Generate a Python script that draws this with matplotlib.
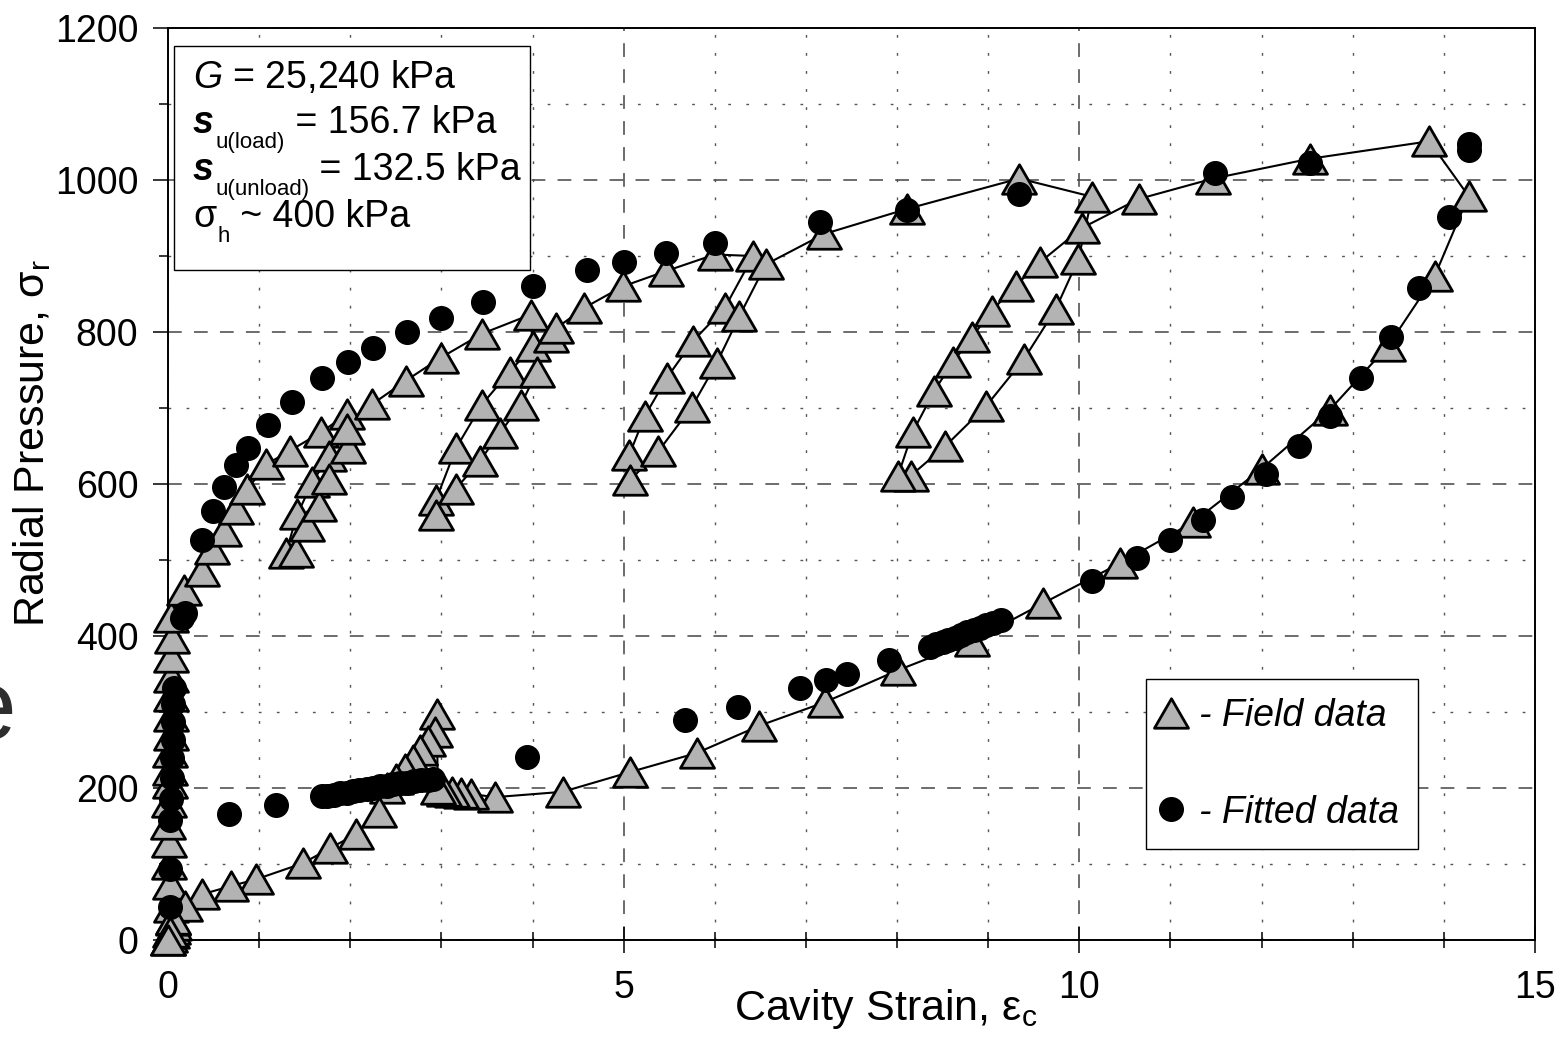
import matplotlib
matplotlib.use('Agg')
import matplotlib.pyplot as plt
from matplotlib.lines import Line2D
from matplotlib.markers import MarkerStyle
from matplotlib.patches import Rectangle
from matplotlib.path import Path
from matplotlib.ticker import MultipleLocator

plt.rcParams['font.family'] = ['Liberation Sans', 'DejaVu Sans']
plt.rcParams['mathtext.fontset'] = 'custom'
plt.rcParams['mathtext.rm'] = 'Liberation Sans'
plt.rcParams['mathtext.it'] = 'Liberation Sans:italic'
plt.rcParams['mathtext.bf'] = 'Liberation Sans:bold'

# field data, in test order (loading, 4 unload/reload loops, final unloading)
field_strain = [
    0.00, 0.02, 0.04, 0.06, 0.07, 0.05,
    0.03, 0.02, 0.01, 0.01, 0.00, 0.01, 0.02, 0.02, 0.02, 0.03, 0.03, 0.03,
    0.03, 0.03, 0.04, 0.03,
    0.17, 0.37, 0.48, 0.61, 0.75, 0.87, 1.08, 1.34, 1.68, 1.96,
    1.77, 1.58, 1.42, 1.29, 1.40, 1.53, 1.66, 1.77, 1.97, 1.96,
    2.24, 2.61, 2.99, 3.45, 3.98,
    4.00, 3.75, 3.44, 3.16, 2.94, 2.94, 3.16, 3.42, 3.64, 3.87, 4.05, 4.20, 4.26,
    4.57, 4.99, 5.46, 6.00, 6.42,
    6.11, 5.76, 5.47, 5.23, 5.06, 5.07, 5.38, 5.75, 6.02, 6.27, 6.56,
    7.20, 8.11, 9.34, 10.14,
    9.99, 9.74, 9.39, 8.98, 8.53, 8.15, 8.01, 8.17, 8.41, 8.61, 8.82, 9.04,
    9.30, 9.57, 10.03,
    10.65, 11.47, 12.53, 13.84, 14.27,
    13.90, 13.39, 12.75, 12.00, 11.25, 10.45, 9.60, 8.82, 8.01, 7.21, 6.49,
    5.80, 5.07, 4.33, 3.59, 3.33, 3.22, 3.12, 3.03, 2.96,
    2.95, 2.93, 2.85, 2.77, 2.69, 2.60, 2.50, 2.40,
    2.31, 2.06, 1.78, 1.48, 0.97, 0.69, 0.37, 0.19, 0.05, 0.02, 0.00,
]
field_pressure = [
    0, 4, 9, 14, 20, 26,
    44, 74, 100, 129, 153, 182, 206, 224, 248, 270, 295, 321,
    346, 372, 398, 425,
    461, 486, 514, 538, 567, 593, 626, 644, 668, 692,
    637, 602, 560, 509, 510, 545, 571, 606, 648, 672,
    705, 736, 766, 798, 823,
    781, 748, 704, 647, 579, 559, 594, 630, 667, 704, 748, 793, 805,
    832, 860, 880, 902, 900,
    832, 788, 739, 689, 638, 605, 643, 702, 759, 821, 889,
    929, 962, 1002, 978,
    896, 830, 764, 703, 650, 611, 611, 668, 723, 760, 793, 828,
    861, 892, 937,
    975, 1002, 1028, 1051, 979,
    874, 782, 698, 620, 550, 496, 443, 393, 355, 313, 282,
    246, 221, 195, 188, 192, 194, 195, 196, 199,
    297, 274, 262, 250, 237, 225, 212, 200,
    168, 139, 121, 101, 80, 71, 60, 45, 28, 10, 0,
]

# fitted data
fit_strain = [
    0.02, 0.02, 0.02, 0.03, 0.04, 0.04, 0.05, 0.05, 0.06, 0.07, 0.15, 0.19,
    0.37, 0.49, 0.61, 0.75, 0.88, 1.10, 1.36, 1.69, 1.97, 2.25, 2.62, 3.00,
    3.46, 4.00, 4.60, 5.00, 5.46, 6.00, 7.15, 8.11, 9.34, 11.49, 12.53,
    14.28, 14.28,
    14.06, 13.73, 13.42, 13.09, 12.75, 12.41, 12.05, 11.68, 11.36, 10.99,
    10.63, 10.14,
    9.14, 9.05, 8.98, 8.91, 8.84, 8.77, 8.70, 8.63, 8.56, 8.50, 8.43, 8.36,
    7.91, 7.45, 7.22, 6.93, 6.25, 5.67, 3.94,
    2.91, 2.85, 2.78, 2.70, 2.62, 2.55, 2.47, 2.40, 2.33, 2.25, 2.18, 2.10,
    2.03, 1.96, 1.89, 1.82, 1.75, 1.69,
    1.19, 0.67,
]
fit_pressure = [
    44, 94, 158, 186, 213, 239, 263, 287, 310, 332, 424, 430,
    526, 565, 596, 625, 647, 678, 708, 740, 760, 779, 800, 819,
    840, 860, 881, 892, 904, 917, 945, 961, 981, 1009, 1023,
    1047, 1040,
    952, 858, 793, 739, 689, 650, 613, 583, 552, 526,
    502, 473,
    421, 417, 414, 411, 408, 405, 401, 398, 395, 392, 389, 386,
    368, 350, 342, 331, 306, 289, 241,
    212, 211, 210, 209, 207, 206, 205, 203, 202, 200, 199, 197,
    196, 194, 193, 191, 190, 189,
    178, 166,
]

# parameter box: (symbol, subscript, rest of line)
info_rows = [
    ('s', 'u(load)', ' = 156.7 kPa'),
    ('s', 'u(unload)', ' = 132.5 kPa'),
    ('σ', 'h', ' ~ 400 kPa'),
]

FS = 27
FS_LABEL = 31
FS_BOX = 27
TRI = MarkerStyle(Path([(-1, -0.866), (1, -0.866), (0, 0.866), (-1, -0.866)], closed=True),
                  joinstyle='miter')
GREY = '#b3b3b3'

fig = plt.figure(figsize=(15.6, 10.38), dpi=100)
ax = fig.add_axes([0.1077, 0.0944, 0.8763, 0.8786])

ax.plot(field_strain, field_pressure, color='black', lw=1.5, marker=TRI, ms=24.5,
        mfc=GREY, mec='black', mew=2, clip_on=False, zorder=3)
ax.plot(fit_strain, fit_pressure, ls='none', marker='o', ms=17, color='black',
        clip_on=False, zorder=4)

ax.set_xlim(0, 15)
ax.set_ylim(0, 1200)
ax.xaxis.set_major_locator(MultipleLocator(5))
ax.xaxis.set_minor_locator(MultipleLocator(1))
ax.yaxis.set_major_locator(MultipleLocator(200))
ax.yaxis.set_minor_locator(MultipleLocator(100))

ax.grid(which='major', color='#444444', lw=1.1, ls=(0, (9, 8)))
ax.grid(which='minor', color='#555555', lw=1, ls=(0, (2, 11)))
ax.set_axisbelow(True)

ax.tick_params(axis='x', which='major', direction='inout', length=19, width=1.1,
               pad=12, labelsize=FS)
ax.tick_params(axis='x', which='minor', direction='inout', length=11, width=1.1)
ax.tick_params(axis='y', which='major', direction='out', length=10.8, width=1.1,
               pad=10.5, labelsize=FS)
ax.tick_params(axis='y', which='minor', direction='out', length=6.5, width=1.1)
for s in ax.spines.values():
    s.set_linewidth(1.4)

ax.set_xlabel(r'Cavity Strain, $\mathrm{ε}_{\mathrm{c}}$', fontsize=FS_LABEL)
ax.set_ylabel(r'Radial Pressure, $\mathrm{σ}_{\mathrm{r}}$', fontsize=FS_LABEL)
ax.xaxis.set_label_coords(0.525, -0.052)
ax.yaxis.set_label_coords(-0.084, 0.545)

# parameter box
ax.add_patch(Rectangle((0.0044, 0.7346), 0.2604, 0.2456, transform=ax.transAxes,
                       fc='white', ec='black', lw=1.0, zorder=5))
TX = 0.0183
ax.text(TX, 0.9342, r'$\mathit{G}$ = 25,240 kPa', transform=ax.transAxes,
        fontsize=FS_BOX, va='baseline', ha='left', zorder=6)
for i, (sym, sub, rest) in enumerate(info_rows):
    yb = 0.8849 - i * 0.0515
    if sym == 's':
        t1 = ax.text(TX, yb, sym, transform=ax.transAxes, fontsize=FS_BOX,
                     fontweight='bold', fontstyle='italic', va='baseline', zorder=6)
    else:
        t1 = ax.text(TX, yb, sym, transform=ax.transAxes, fontsize=FS_BOX,
                     va='baseline', zorder=6)
    t2 = ax.annotate(sub, xy=(1, yb), xycoords=(t1, 'axes fraction'),
                     xytext=(1, -10.5), textcoords='offset points', fontsize=16,
                     va='baseline', ha='left', zorder=6)
    ax.annotate(rest, xy=(1, yb), xycoords=(t2, 'axes fraction'),
                xytext=(0, 0), textcoords='offset points', fontsize=FS_BOX,
                va='baseline', ha='left', zorder=6)

h_field = Line2D([], [], ls='none', marker=TRI, ms=24.5, mfc=GREY, mec='black', mew=2)
h_fit = Line2D([], [], ls='none', marker='o', ms=17, color='black')
leg = ax.legend([h_field, h_fit], ['- Field data', '- Fitted data'],
                loc='lower left', bbox_to_anchor=(0.7152, 0.0995),
                prop={'size': 27, 'style': 'italic'}, frameon=True, fancybox=False,
                edgecolor='black', framealpha=1, borderpad=0.5, labelspacing=1.62,
                handlelength=0.36, handletextpad=0.57, borderaxespad=0)
leg.get_frame().set_linewidth(1.0)
leg.set_zorder(6)

# stray glyph cut by the left edge of the picture
fig.text(-0.025, 0.288, 'e', fontsize=72, color='#2e2e2e')

fig.savefig('out.png', dpi=100)
